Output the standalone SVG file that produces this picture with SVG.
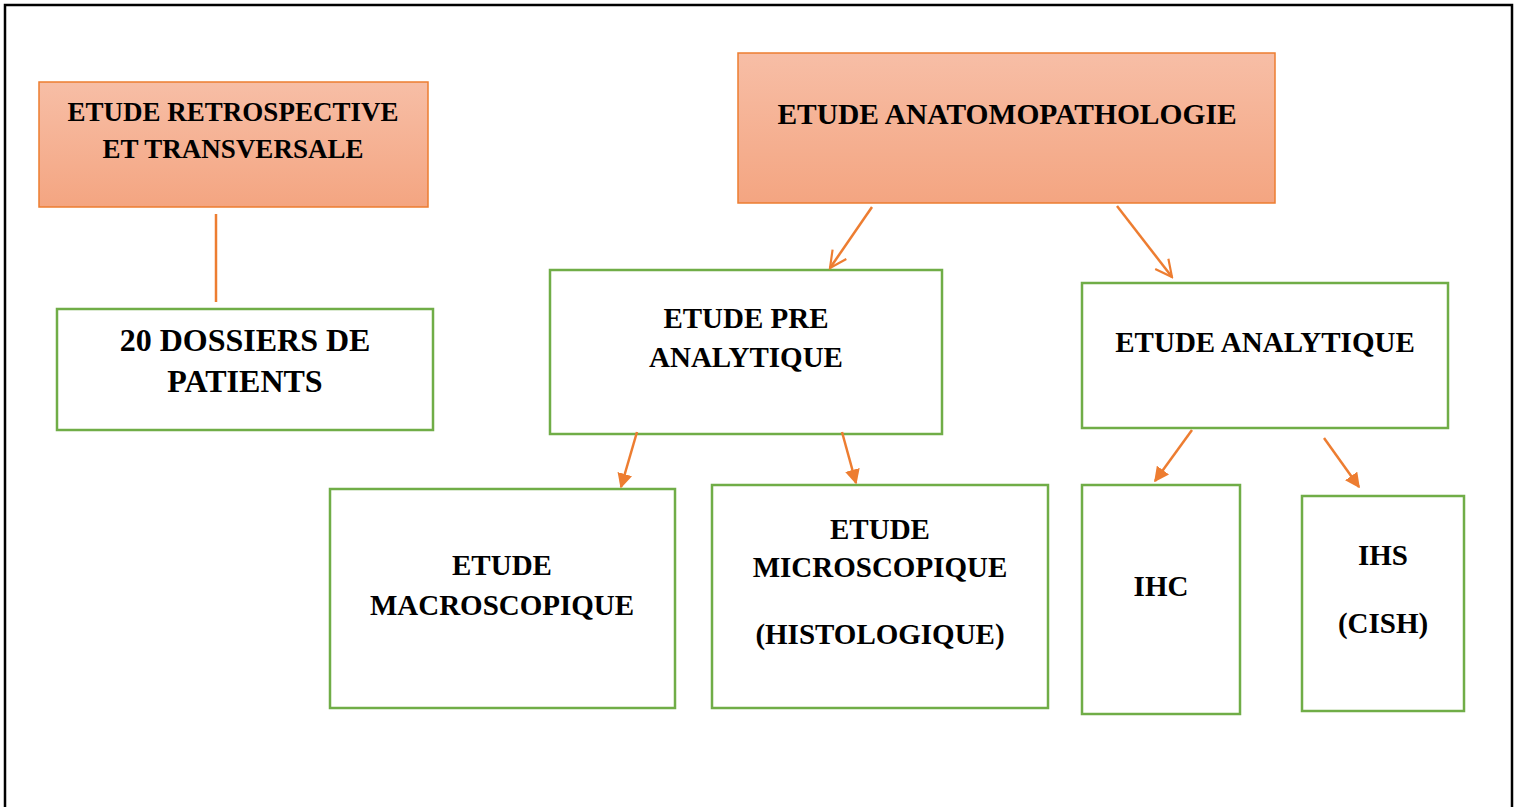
<svg xmlns="http://www.w3.org/2000/svg" width="1517" height="807" viewBox="0 0 1517 807">
<style>
.o{fill:url(#og);stroke:#ED7D31;stroke-width:1.5}
.g{fill:#fff;stroke:#70AD47;stroke-width:2.5}
.t{font-family:"Liberation Serif","Times New Roman",serif;font-weight:bold;fill:#000;text-anchor:middle}
.c{stroke:#ED7D31;stroke-width:2.5;fill:none}
</style>
<defs>
<linearGradient id="og" x1="0" y1="0" x2="0" y2="1">
<stop offset="0" stop-color="#F7BEA6"/>
<stop offset="1" stop-color="#F4A581"/>
</linearGradient>
<marker id="open" viewBox="0 0 12 12" refX="11" refY="6" markerWidth="8" markerHeight="8" markerUnits="strokeWidth" orient="auto">
<path d="M1,1 L11,6 L1,11" fill="none" stroke="#ED7D31" stroke-width="1.3"/>
</marker>
<marker id="fill" viewBox="0 0 10 10" refX="9" refY="5" markerWidth="6" markerHeight="6" markerUnits="strokeWidth" orient="auto">
<path d="M0,0 L10,5 L0,10 Z" fill="#ED7D31"/>
</marker>
</defs>
<rect x="0" y="0" width="1517" height="807" fill="#fff"/>
<path d="M5,810 L5,5 L1512,5 L1512,810" fill="none" stroke="#000" stroke-width="2.5"/>
<g id="n-retro">
<rect class="o" x="39" y="82" width="389" height="125"/>
<text class="t" x="233" y="121" font-size="27">ETUDE RETROSPECTIVE</text>
<text class="t" x="233" y="158" font-size="27">ET TRANSVERSALE</text>
</g>
<g id="n-anapath">
<rect class="o" x="738" y="53" width="537" height="150"/>
<text class="t" x="1007" y="124" font-size="29.5">ETUDE ANATOMOPATHOLOGIE</text>
</g>
<g id="n-dossiers">
<rect class="g" x="57" y="309" width="376" height="121"/>
<text class="t" x="245" y="351" font-size="32">20 DOSSIERS DE</text>
<text class="t" x="245" y="392" font-size="32">PATIENTS</text>
</g>
<g id="n-pre">
<rect class="g" x="550" y="270" width="392" height="164"/>
<text class="t" x="746" y="328" font-size="29">ETUDE PRE</text>
<text class="t" x="746" y="367" font-size="29">ANALYTIQUE</text>
</g>
<g id="n-analytique">
<rect class="g" x="1082" y="283" width="366" height="145"/>
<text class="t" x="1265" y="352" font-size="29">ETUDE ANALYTIQUE</text>
</g>
<g id="n-macro">
<rect class="g" x="330" y="489" width="345" height="219"/>
<text class="t" x="502" y="575" font-size="29">ETUDE</text>
<text class="t" x="502" y="615" font-size="29">MACROSCOPIQUE</text>
</g>
<g id="n-micro">
<rect class="g" x="712" y="485" width="336" height="223"/>
<text class="t" x="880" y="539" font-size="29">ETUDE</text>
<text class="t" x="880" y="577" font-size="29">MICROSCOPIQUE</text>
<text class="t" x="880" y="644" font-size="29">(HISTOLOGIQUE)</text>
</g>
<g id="n-ihc">
<rect class="g" x="1082" y="485" width="158" height="229"/>
<text class="t" x="1161" y="596" font-size="29">IHC</text>
</g>
<g id="n-ihs">
<rect class="g" x="1302" y="496" width="162" height="215"/>
<text class="t" x="1383" y="565" font-size="29">IHS</text>
<text class="t" x="1383" y="633" font-size="29">(CISH)</text>
</g>
<g id="connectors">
<line class="c" x1="216" y1="214" x2="216" y2="302" stroke-width="1.5"/>
<line class="c" x1="872" y1="207" x2="830" y2="268" marker-end="url(#open)" stroke-width="2"/>
<line class="c" x1="1117" y1="206" x2="1172" y2="277" marker-end="url(#open)" stroke-width="2"/>
<line class="c" x1="637" y1="432" x2="621" y2="487" marker-end="url(#fill)"/>
<line class="c" x1="842" y1="432" x2="856" y2="483" marker-end="url(#fill)"/>
<line class="c" x1="1192" y1="430" x2="1155" y2="481" marker-end="url(#fill)"/>
<line class="c" x1="1324" y1="438" x2="1359" y2="487" marker-end="url(#fill)"/>
</g>
</svg>
